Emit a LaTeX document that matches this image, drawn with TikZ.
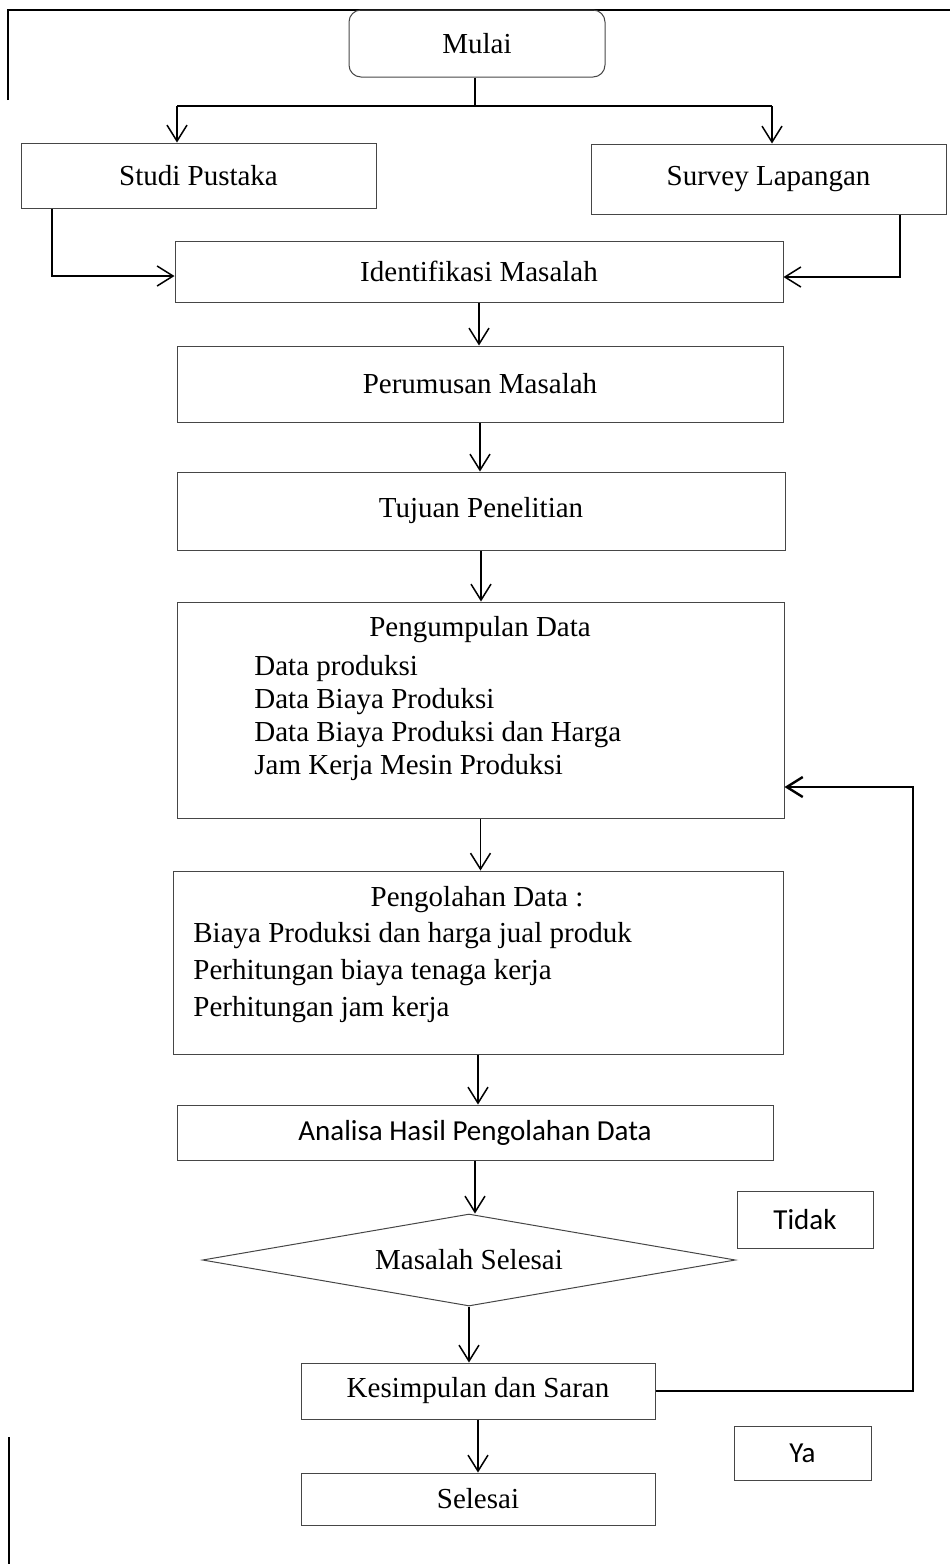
\documentclass[tikz,border=0pt]{standalone}
\usepackage{fontspec}
\setmainfont{Liberation Serif}
\newfontfamily\calibri{Carlito}
\usepackage{tikz}
\usetikzlibrary{shapes.geometric,arrows.meta,positioning,calc}
\definecolor{garisabu}{RGB}{70,70,70}

\begin{document}
\begin{tikzpicture}[x=0.5pt,y=-0.5pt,
        font=\fontsize{14.5pt}{17pt}\selectfont,
        kotak/.style={rectangle,draw=garisabu,line width=0.5pt,inner sep=0pt},
        garis/.style={line width=0.75pt},
        panah/.style={garis,-{Straight Barb[length=8pt,width=10pt]}}]
        \useasboundingbox (0,0) rectangle (950,1564);

        % Bingkai
        \draw[garis] (8,100) -- (8,10) -- (950,10);
        \draw[garis] (9,1437) -- (9,1564);

        % Tahap awal
        \node[kotak,rounded corners=6pt,minimum width=128pt,minimum height=33.5pt] (mulai) at (477,43.5) {Mulai};
        \node[kotak,minimum width=177.5pt,minimum height=32.5pt] (studi) at (198.5,175.5) {Studi Pustaka};
        \node[kotak,minimum width=177.5pt,minimum height=35pt] (survey) at (768.5,179) {Survey Lapangan};
        \node[kotak,minimum width=304pt,minimum height=30.5pt] (identifikasi) at (479,271.5) {Identifikasi Masalah};
        \node[kotak,minimum width=303pt,minimum height=38pt] (perumusan) at (480,384) {Perumusan Masalah};
        \node[kotak,minimum width=304pt,minimum height=39pt] (tujuan) at (481,511) {Tujuan Penelitian};

        % Data
        \node[kotak,minimum width=303.5pt,minimum height=108pt] (pengumpulan) at (480.5,710) {};
        \node (judulkumpul) at (480,630) {Pengumpulan Data};
        \node[anchor=west,align=left,inner sep=0pt,font=\fontsize{14.5pt}{16.5pt}\selectfont] (isikumpul) at (254,718) {
            Data produksi\\
            Data Biaya Produksi\\
            Data Biaya Produksi dan Harga\\
            Jam Kerja Mesin Produksi};
        \node[kotak,minimum width=305pt,minimum height=91.5pt] (pengolahan) at (478,962.5) {};
        \node (judulolah) at (477,900) {Pengolahan Data :};
        \node[anchor=west,align=left,inner sep=0pt,font=\fontsize{14.5pt}{18.5pt}\selectfont] (isiolah) at (193,973) {
            Biaya Produksi dan harga jual produk\\
            Perhitungan biaya tenaga kerja\\
            Perhitungan jam kerja};
        \node[kotak,minimum width=298pt,minimum height=27.5pt,font=\fontsize{14.5pt}{17pt}\calibri] (analisa) at (475,1132.5) {Analisa Hasil Pengolahan Data};

        % Keputusan
        \node[diamond,draw=garisabu,line width=0.5pt,inner sep=0pt,aspect=5.8,minimum width=266.5pt,minimum height=46pt] (keputusan) at (469,1260) {Masalah Selesai};
        \node[kotak,minimum width=68pt,minimum height=28.5pt,font=\fontsize{14.5pt}{17pt}\calibri] (tidak) at (805,1219.5) {Tidak};
        \node[kotak,minimum width=177pt,minimum height=28pt] (kesimpulan) at (478,1391) {Kesimpulan dan Saran};
        \node[kotak,minimum width=68.5pt,minimum height=27pt,font=\fontsize{14.5pt}{17pt}\calibri] (ya) at (802.5,1453) {Ya};
        \node[kotak,minimum width=177pt,minimum height=26pt] (selesai) at (478,1499) {Selesai};

        % Percabangan
        \coordinate (cabang) at (475,106);
        \coordinate (cabangkiri) at (177,106);
        \coordinate (cabangkanan) at (772,106);
        \coordinate (belokstudi) at (52,276);
        \coordinate (beloksurvey) at (900,277);
        \coordinate (balik) at (913,787);

        \draw[garis] (cabang |- mulai.south) -- (cabang);
        \draw[garis] (cabangkiri) -- (cabangkanan);
        \draw[panah] (cabangkiri) -- (cabangkiri |- studi.north);
        \draw[panah] (cabangkanan) -- (cabangkanan |- survey.north);
        \draw[panah] (belokstudi |- studi.south) -- (belokstudi) -- (belokstudi -| identifikasi.west);
        \draw[panah] (beloksurvey |- survey.south) -- (beloksurvey) -- (beloksurvey -| identifikasi.east);

        % Alur utama
        \foreach \dari/\ke in {identifikasi/perumusan,perumusan/tujuan,tujuan/pengumpulan,pengumpulan/pengolahan,pengolahan/analisa,analisa/keputusan,keputusan/kesimpulan,kesimpulan/selesai}
            \draw[panah] (\dari.south) -- (\dari.south |- \ke.north);

        % Umpan balik
        \draw[panah,line width=1.2pt] (kesimpulan.east) -- (kesimpulan.east -| balik) -- (balik) -- (balik -| pengumpulan.east);
    \end{tikzpicture}
\end{document}
